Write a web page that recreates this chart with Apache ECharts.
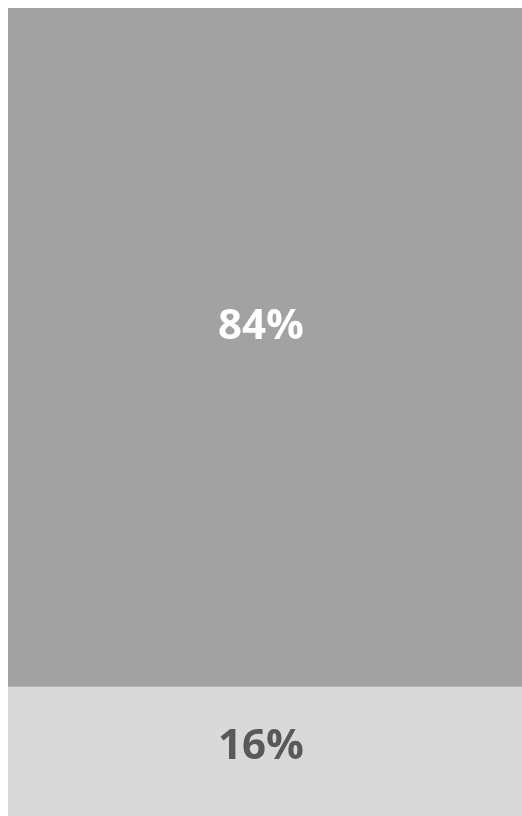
<!DOCTYPE html>
<html><head><meta charset="utf-8">
<script src="https://cdn.jsdelivr.net/npm/echarts@6/dist/echarts.min.js"></script>
<style>html,body{margin:0;padding:0;background:#fff}#c{width:522px;height:816px}</style>
</head><body><div id="c"></div>
<script>
const categories = ['Total'];
const bottomValues = [16];
const topValues = [84];
const chart = echarts.init(document.getElementById('c'));
chart.setOption({
  animation: false,
  grid: {left: 8, right: -4, top: 8, bottom: -2},
  xAxis: {type: 'category', data: categories, show: false},
  yAxis: {type: 'value', min: 0, max: 100, show: false},
  series: [
    {type: 'bar', stack: 's', data: bottomValues, barCategoryGap: 0, barWidth: '100%',
     itemStyle: {color: '#d9d9d9'},
     label: {show: true, position: 'inside', formatter: '{c}%', color: '#595959',
       fontFamily: 'Open Sans', fontWeight: 'bold', fontSize: 42, offset: [-4, -4]}},
    {type: 'bar', stack: 's', data: topValues, barWidth: '100%',
     itemStyle: {color: '#a2a2a2'},
     label: {show: true, position: 'inside', formatter: '{c}%', color: '#ffffff',
       fontFamily: 'Open Sans', fontWeight: 'bold', fontSize: 42, offset: [-4, -20]}}
  ]
});
</script></body></html>
